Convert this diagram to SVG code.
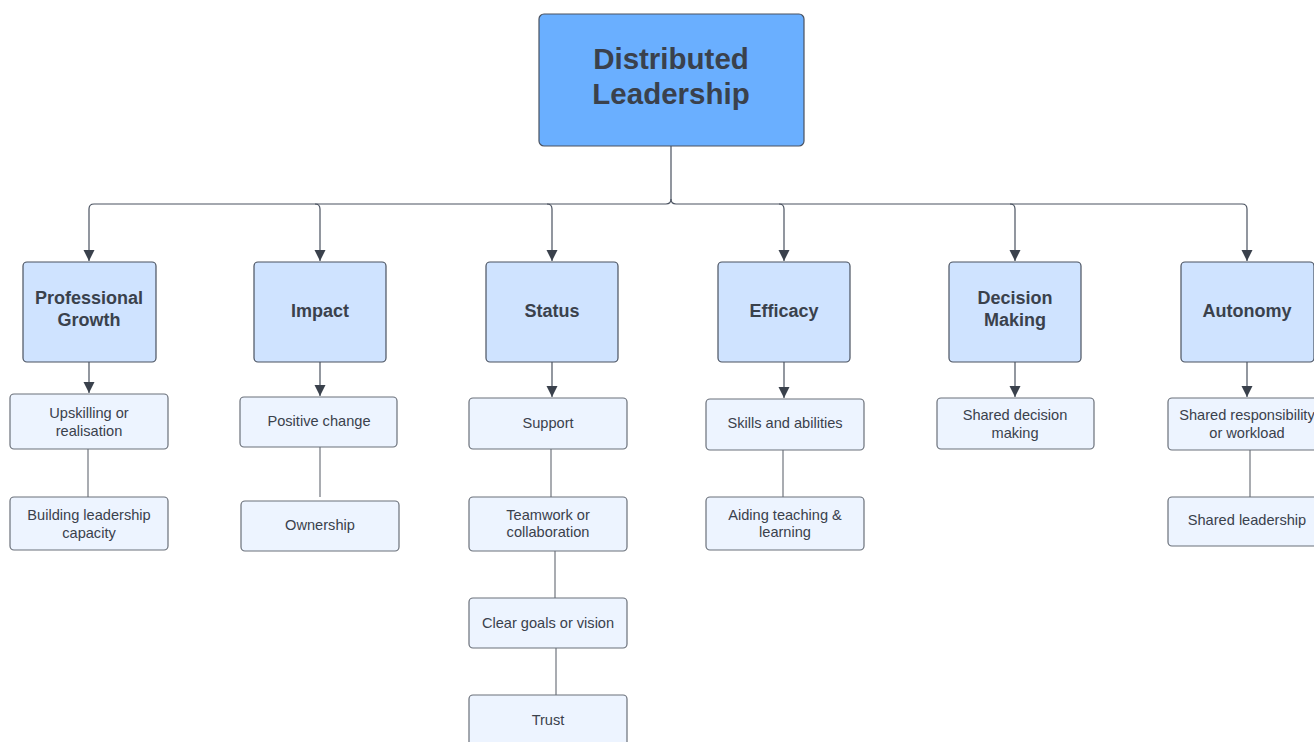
<svg xmlns="http://www.w3.org/2000/svg" width="1314" height="742" viewBox="0 0 1314 742">
<style>
.root{fill:#6aafff;stroke:#4a5260;stroke-width:1.2}
.cat{fill:#cfe3ff;stroke:#4a5260;stroke-width:1.2}
.sub{fill:#edf4ff;stroke:#6a707a;stroke-width:1.2}
.t{font-family:"Liberation Sans",Arial,sans-serif;fill:#3a414c;text-anchor:middle}
.rt{font-size:29.5px;font-weight:bold}
.ct{font-size:18px;font-weight:bold}
.st{font-size:14.6px}
.ln{fill:none;stroke:#4a5260;stroke-width:1.2}
.pl{fill:none;stroke:#70757d;stroke-width:1.2}
</style>
<defs>
<marker id="ah" markerWidth="12" markerHeight="12" refX="11" refY="5.5" orient="auto" markerUnits="userSpaceOnUse">
<path d="M0,0 L11,5.5 L0,11 z" fill="#3a414c"/>
</marker>
</defs>
<rect width="1314" height="742" fill="#ffffff"/>
<g id="connectors">
<path class="ln" d="M671,146 V199 Q671,204 666,204 H94 Q89,204 89,209 V261" marker-end="url(#ah)"/>
<path class="ln" d="M671,199 Q671,204 676,204 H1242 Q1247,204 1247,209 V261" marker-end="url(#ah)"/>
<path class="ln" d="M315,204 Q320,204 320,209 V261" marker-end="url(#ah)"/>
<path class="ln" d="M547,204 Q552,204 552,209 V261" marker-end="url(#ah)"/>
<path class="ln" d="M779,204 Q784,204 784,209 V261" marker-end="url(#ah)"/>
<path class="ln" d="M1010,204 Q1015,204 1015,209 V261" marker-end="url(#ah)"/>
<path class="ln" d="M89,362 V393" marker-end="url(#ah)"/>
<path class="ln" d="M320,362 V396" marker-end="url(#ah)"/>
<path class="ln" d="M552,362 V397" marker-end="url(#ah)"/>
<path class="ln" d="M784,362 V398" marker-end="url(#ah)"/>
<path class="ln" d="M1015,362 V397" marker-end="url(#ah)"/>
<path class="ln" d="M1247,362 V397" marker-end="url(#ah)"/>
<path class="pl" d="M88,449 V497"/>
<path class="pl" d="M320,447 V497"/>
<path class="pl" d="M551,449 V497"/>
<path class="pl" d="M555,551 V598"/>
<path class="pl" d="M556,648 V695"/>
<path class="pl" d="M783,450 V497"/>
<path class="pl" d="M1250,450 V497"/>
</g>
<g id="root"><rect class="root" x="539" y="14" width="265" height="132" rx="5"/>
<text class="t rt" x="671" y="69">Distributed</text><text class="t rt" x="671" y="104">Leadership</text></g>
<g id="cat-professional-growth"><rect class="cat" x="23" y="262" width="133" height="100" rx="4"/>
<text class="t ct" x="89" y="304">Professional</text><text class="t ct" x="89" y="326">Growth</text></g>
<g id="cat-impact"><rect class="cat" x="254" y="262" width="132" height="100" rx="4"/>
<text class="t ct" x="320" y="317">Impact</text></g>
<g id="cat-status"><rect class="cat" x="486" y="262" width="132" height="100" rx="4"/>
<text class="t ct" x="552" y="317">Status</text></g>
<g id="cat-efficacy"><rect class="cat" x="718" y="262" width="132" height="100" rx="4"/>
<text class="t ct" x="784" y="317">Efficacy</text></g>
<g id="cat-decision-making"><rect class="cat" x="949" y="262" width="132" height="100" rx="4"/>
<text class="t ct" x="1015" y="304">Decision</text><text class="t ct" x="1015" y="326">Making</text></g>
<g id="cat-autonomy"><rect class="cat" x="1181" y="262" width="133" height="100" rx="4"/>
<text class="t ct" x="1247" y="317">Autonomy</text></g>
<g id="upskilling"><rect class="sub" x="10" y="394" width="158" height="55" rx="4"/>
<text class="t st" x="89" y="418">Upskilling or</text><text class="t st" x="89" y="436">realisation</text></g>
<g id="building-leadership"><rect class="sub" x="10" y="497" width="158" height="53" rx="4"/>
<text class="t st" x="89" y="520">Building leadership</text><text class="t st" x="89" y="538">capacity</text></g>
<g id="positive-change"><rect class="sub" x="240" y="397" width="157" height="50" rx="4"/>
<text class="t st" x="319" y="426">Positive change</text></g>
<g id="ownership"><rect class="sub" x="241" y="501" width="158" height="50" rx="4"/>
<text class="t st" x="320" y="530">Ownership</text></g>
<g id="support"><rect class="sub" x="469" y="398" width="158" height="51" rx="4"/>
<text class="t st" x="548" y="428">Support</text></g>
<g id="teamwork"><rect class="sub" x="469" y="497" width="158" height="54" rx="4"/>
<text class="t st" x="548" y="520">Teamwork or</text><text class="t st" x="548" y="537">collaboration</text></g>
<g id="clear-goals"><rect class="sub" x="469" y="598" width="158" height="50" rx="4"/>
<text class="t st" x="548" y="628">Clear goals or vision</text></g>
<g id="trust"><rect class="sub" x="469" y="695" width="158" height="60" rx="4"/>
<text class="t st" x="548" y="725">Trust</text></g>
<g id="skills"><rect class="sub" x="706" y="399" width="158" height="51" rx="4"/>
<text class="t st" x="785" y="428">Skills and abilities</text></g>
<g id="aiding"><rect class="sub" x="706" y="497" width="158" height="53" rx="4"/>
<text class="t st" x="785" y="520">Aiding teaching &amp;</text><text class="t st" x="785" y="537">learning</text></g>
<g id="shared-decision"><rect class="sub" x="937" y="398" width="157" height="51" rx="4"/>
<text class="t st" x="1015" y="420">Shared decision</text><text class="t st" x="1015" y="438">making</text></g>
<g id="shared-responsibility"><rect class="sub" x="1168" y="398" width="156" height="52" rx="4"/>
<text class="t st" x="1247" y="420">Shared responsibility</text><text class="t st" x="1247" y="438">or workload</text></g>
<g id="shared-leadership"><rect class="sub" x="1168" y="497" width="156" height="49" rx="4"/>
<text class="t st" x="1247" y="525">Shared leadership</text></g>
</svg>
